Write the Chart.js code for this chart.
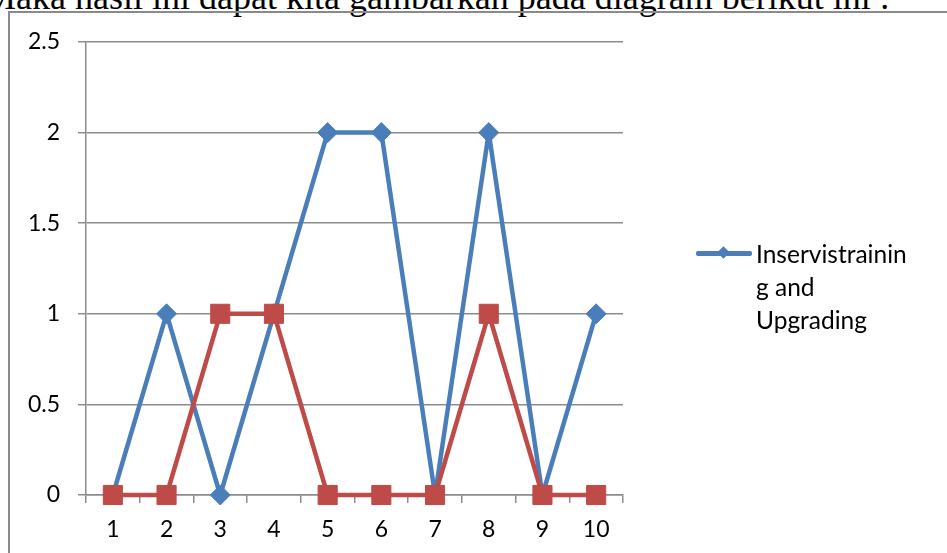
<!DOCTYPE html>
<html>
<head>
<meta charset="utf-8">
<script src="https://cdn.jsdelivr.net/npm/chart.js@4.4.1/dist/chart.umd.min.js"></script>
<style>
  html, body { margin: 0; padding: 0; background: #fff; overflow: hidden; }
  #page { position: relative; width: 947px; height: 553px; overflow: hidden; }
  #caption {
    position: absolute; left: -16px; top: -21px;
    font-family: "Liberation Serif", "Times New Roman", serif;
    font-size: 36px; line-height: 36px; white-space: nowrap; color: #000;
  }
  #frame {
    position: absolute; left: 8px; top: 11px; width: 1000px; height: 1000px;
    border: 2px solid #8a8a8a;
  }
  #chart-wrap { position: absolute; left: 0; top: 0; width: 947px; height: 553px; }
  #legend {
    position: absolute; left: 696px; top: 237px;
    font-family: Lato, sans-serif; font-size: 24.5px; line-height: 33px; color: #000;
  }
  .legend-item { position: relative; padding-left: 60px; }
  .legend-line { position: absolute; left: 0; top: 14px; width: 56px; height: 4.5px; border-radius: 2px; }
  .legend-dot { position: absolute; left: 23px; top: 11px; width: 9px; height: 9px; transform: rotate(45deg); }
  .legend-text { width: 158px; overflow-wrap: anywhere; }
</style>
</head>
<body>
<div id="page">
  <div id="caption">Maka hasil ini dapat kita gambarkan pada diagram berikut ini :</div>
  <div id="frame"></div>
  <div id="chart-wrap"><canvas id="chart" width="947" height="553"></canvas></div>
  <div id="legend"></div>
</div>
<script>
// ---- data ----
const categories = ['1', '2', '3', '4', '5', '6', '7', '8', '9', '10'];
const inserviceValues = [0, 1, 0, 1, 2, 2, 0, 2, 0, 1];
const secondValues = [0, 0, 1, 1, 0, 0, 0, 1, 0, 0];
const yTicks = [0, 0.5, 1, 1.5, 2, 2.5];

const BLUE = '#4a7ebb';
const RED = '#be4b48';
const GRID = '#8c8c8c';

const chart = new Chart(document.getElementById('chart'), {
  type: 'line',
  data: {
    labels: categories,
    datasets: [
      {
        label: 'Inservistraining and Upgrading',
        data: inserviceValues,
        borderColor: BLUE,
        backgroundColor: BLUE,
        borderWidth: 4.5,
        borderJoinStyle: 'round',
        pointStyle: 'rectRot',
        pointRadius: 10,
        pointBorderWidth: 1,
        pointBackgroundColor: BLUE,
        pointBorderColor: BLUE,
        tension: 0,
        clip: false,
        order: 1,
        inLegend: true
      },
      {
        label: 'Series2',
        data: secondValues,
        borderColor: RED,
        backgroundColor: RED,
        borderWidth: 4.5,
        borderJoinStyle: 'round',
        pointStyle: 'rect',
        pointRadius: 13.5,
        pointBorderWidth: 1,
        pointBackgroundColor: RED,
        pointBorderColor: RED,
        tension: 0,
        clip: false,
        order: 0,
        inLegend: false
      }
    ]
  },
  options: {
    responsive: false,
    animation: false,
    layout: { padding: { top: 42, right: 324, left: 0, bottom: 0 } },
    plugins: { legend: { display: false }, tooltip: { enabled: false } },
    scales: {
      x: {
        offset: true,
        grid: { offset: true, drawOnChartArea: false, tickLength: 8, color: GRID, lineWidth: 1.5 },
        border: { color: GRID, width: 1.5 },
        ticks: { color: '#000', padding: 13, font: { family: 'Lato', size: 23 }, maxRotation: 0 },
        afterFit: s => { s.height = 58; }
      },
      y: {
        min: 0,
        max: 2.5,
        afterBuildTicks: s => { s.ticks = yTicks.map(v => ({ value: v })); },
        grid: { color: GRID, lineWidth: 1.5, tickLength: 8 },
        border: { color: GRID, width: 1.5 },
        ticks: {
          color: '#000', padding: 18, font: { family: 'Lato', size: 23 },
          callback: v => String(v)
        },
        afterFit: s => { s.width = 86; }
      }
    }
  }
});

// legend only lists the named series, like the original
const legendEl = document.getElementById('legend');
legendEl.innerHTML = chart.data.datasets.filter(d => d.inLegend).map(d => `
  <div class="legend-item">
    <span class="legend-line" style="background:${d.borderColor}"></span>
    <span class="legend-dot" style="background:${d.borderColor}"></span>
    <div class="legend-text">${d.label}</div>
  </div>`).join('');
</script>
</body>
</html>
